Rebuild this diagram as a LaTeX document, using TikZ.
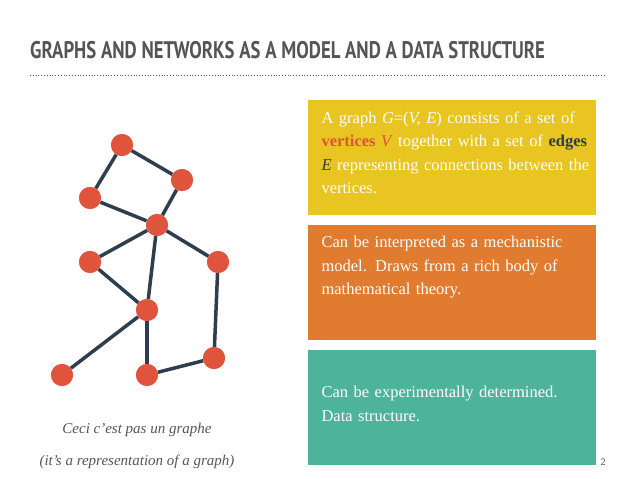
\documentclass[tikz,border=0pt]{standalone}
\usepackage{fontspec}
\setmainfont{Liberation Serif}
\newfontfamily\titlefont{PT Sans}
\definecolor{vred}{HTML}{E0533C}
\definecolor{edgec}{HTML}{2E3E4E}
\definecolor{ybox}{HTML}{E8C520}
\definecolor{obox}{HTML}{E07B2F}
\definecolor{tbox}{HTML}{4DB39B}
\definecolor{gtxt}{HTML}{555555}
\begin{document}
\begin{tikzpicture}[x=1pt,y=-1pt,
  vert/.style={circle,fill=vred,minimum size=22pt,inner sep=0pt},
  edge/.style={draw=edgec,line width=3.5pt},
  infobox/.style={anchor=north west,minimum width=288pt,minimum height=115pt,inner sep=0pt},
  boxtext/.style={anchor=north west,text=white,text width=275pt,align=left,font=\fontsize{16.5}{23.5}\selectfont}]
\useasboundingbox (0,0) rectangle (638,479);
\node[anchor=west,text=gtxt,inner sep=0pt] (title) at (30,50) {\scalebox{0.78}[1]{\titlefont\bfseries\fontsize{24}{24}\selectfont GRAPHS AND NETWORKS AS A MODEL AND A DATA STRUCTURE}};
\coordinate (l1) at (30,75); \coordinate (l2) at (605,75);
\draw[gtxt,dotted,line width=0.8pt] (l1) -- (l2);
\node[vert] (a) at (122,145) {};
\node[vert] (b) at (182,180) {};
\node[vert] (c) at (90,198) {};
\node[vert] (d) at (157,225) {};
\node[vert] (e) at (90,262) {};
\node[vert] (f) at (218,262) {};
\node[vert] (g) at (147,310) {};
\node[vert] (h) at (62,375) {};
\node[vert] (i) at (147,375) {};
\node[vert] (j) at (214,358) {};
\begin{scope}[on background layer/.try]
\end{scope}
\foreach \u/\v in {a/b,a/c,b/d,c/d,d/e,d/f,d/g,e/g,f/j,g/h,g/i,i/j}
  \draw[edge] (\u) -- (\v);
\foreach \n in {a,b,c,d,e,f,g,h,i,j} \fill[vred] (\n) circle (11pt);
\node[infobox,fill=ybox] (y) at (308,100) {};
\node[infobox,fill=obox] (o) at (308,225) {};
\node[infobox,fill=tbox] (t) at (308,350) {};
\node[boxtext] (yt) at (318,108) {A graph \textit{G}=(\textit{V, E}) consists of a set of \textcolor{vred}{\textbf{vertices} \textit{V}} together with a set of \textcolor{edgec}{\textbf{edges}} \textcolor{edgec}{\textit{E}} representing connections between the vertices.};
\node[boxtext] (ot) at (318,233) {Can be interpreted as a mechanistic model. Draws from a rich body of mathematical theory.};
\node[boxtext] (tt) at (318,383) {Can be experimentally determined. Data structure.};
\node[text=gtxt,font=\itshape\fontsize{15}{18}\selectfont] (c1) at (137,430) {Ceci c'est pas un graphe};
\node[text=gtxt,font=\itshape\fontsize{15}{18}\selectfont] (c2) at (137,462) {(it's a representation of a graph)};
\node[text=gtxt,font=\sffamily\fontsize{10}{10}\selectfont] (pn) at (603,462) {2};
\end{tikzpicture}
\end{document}
